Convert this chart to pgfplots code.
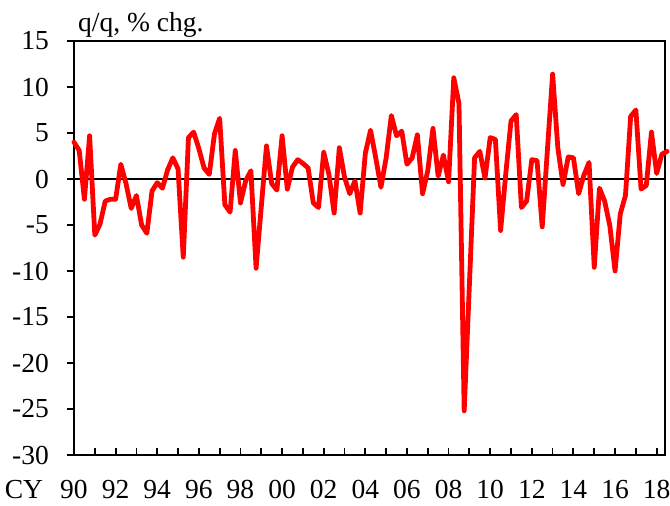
\documentclass[border=0pt]{standalone}
\usepackage{fontspec}
\setmainfont{Liberation Serif}
\usepackage{pgfplots}
\pgfplotsset{compat=1.18}
\usepackage{pgfplotstable}
\pgfplotstableread{
x y
1990.00 4.0
1990.25 3.1
1990.50 -2.2
1990.75 4.7
1991.00 -6.1
1991.25 -4.9
1991.50 -2.4
1991.75 -2.2
1992.00 -2.2
1992.25 1.6
1992.50 -0.5
1992.75 -3.2
1993.00 -1.8
1993.25 -5.0
1993.50 -5.9
1993.75 -1.3
1994.00 -0.4
1994.25 -1.0
1994.50 1.0
1994.75 2.3
1995.00 1.1
1995.25 -8.5
1995.50 4.5
1995.75 5.1
1996.00 3.3
1996.25 1.2
1996.50 0.5
1996.75 4.9
1997.00 6.6
1997.25 -2.8
1997.50 -3.6
1997.75 3.1
1998.00 -2.6
1998.25 -0.2
1998.50 0.9
1998.75 -9.7
1999.00 -3.0
1999.25 3.6
1999.50 -0.5
1999.75 -1.2
2000.00 4.7
2000.25 -1.1
2000.50 1.3
2000.75 2.1
2001.00 1.7
2001.25 1.2
2001.50 -2.6
2001.75 -3.1
2002.00 2.9
2002.25 0.5
2002.50 -3.7
2002.75 3.4
2003.00 0.2
2003.25 -1.6
2003.50 -0.2
2003.75 -3.7
2004.00 2.8
2004.25 5.3
2004.50 2.3
2004.75 -0.9
2005.00 2.3
2005.25 6.9
2005.50 4.7
2005.75 5.2
2006.00 1.6
2006.25 2.3
2006.50 4.8
2006.75 -1.6
2007.00 0.9
2007.25 5.5
2007.50 0.3
2007.75 2.6
2008.00 -0.3
2008.25 11.0
2008.50 8.2
2008.75 -25.2
2009.00 -11.5
2009.25 2.3
2009.50 3.0
2009.75 0.1
2010.00 4.5
2010.25 4.3
2010.50 -5.6
2010.75 0.6
2011.00 6.3
2011.25 7.0
2011.50 -3.1
2011.75 -2.4
2012.00 2.1
2012.25 2.0
2012.50 -5.2
2012.75 3.2
2013.00 11.4
2013.25 3.4
2013.50 -0.6
2013.75 2.4
2014.00 2.3
2014.25 -1.6
2014.50 0.4
2014.75 1.8
2015.00 -9.6
2015.25 -1.0
2015.50 -2.4
2015.75 -5.1
2016.00 -10.0
2016.25 -3.8
2016.50 -1.8
2016.75 6.8
2017.00 7.5
2017.25 -1.1
2017.50 -0.7
2017.75 5.1
2018.00 0.6
2018.25 2.7
2018.50 3.0
}\gdpdata
\begin{document}
\fontsize{27.5bp}{32bp}\selectfont
\begin{tikzpicture}
\path[use as bounding box] (-74bp,-51bp) rectangle (596bp,455bp);
\begin{axis}[
  at={(0,0)}, anchor=south west,
  scale only axis,
  width=591bp, height=414bp,
  xmin=1990, xmax=2018.4,
  ymin=-30, ymax=15,
  clip=false,
  axis line style={line width=2.2bp, black},
  tick pos=left,
  tick align=inside,
  major tick length=7bp,
  tick style={line width=1.8bp, black},
  ytick style={xshift=-7bp},
  xtick={1990,...,2018},
  xticklabels={90,,92,,94,,96,,98,,00,,02,,04,,06,,08,,10,,12,,14,,16,,18},
  ytick={-30,-25,...,15},
  yticklabels={-30,-25,-20,-15,-10,-5,0,5,10,15},
  tick label style={font=\fontsize{27.5bp}{32bp}\selectfont},
  xticklabel style={anchor=base, inner sep=0pt, yshift=-43bp},
  yticklabel style={anchor=east, inner sep=0pt, xshift=-25bp},
]
\draw[black, line width=2bp] (axis cs:1990,0) -- (axis cs:2018.4,0);
\addplot[red, line width=4.8bp, line join=round, line cap=round, mark=none] table[x=x, y=y] {\gdpdata};
\node[anchor=base west, inner sep=0pt, font=\fontsize{27.5bp}{32bp}\selectfont] at (rel axis cs:0,1) [xshift=4bp, yshift=9.5bp] {q/q, \% chg.};
\node[anchor=base, inner sep=0pt, font=\fontsize{27.5bp}{32bp}\selectfont] at (rel axis cs:0,0) [xshift=-50bp, yshift=-43bp] {CY};
\end{axis}
\end{tikzpicture}
\end{document}
